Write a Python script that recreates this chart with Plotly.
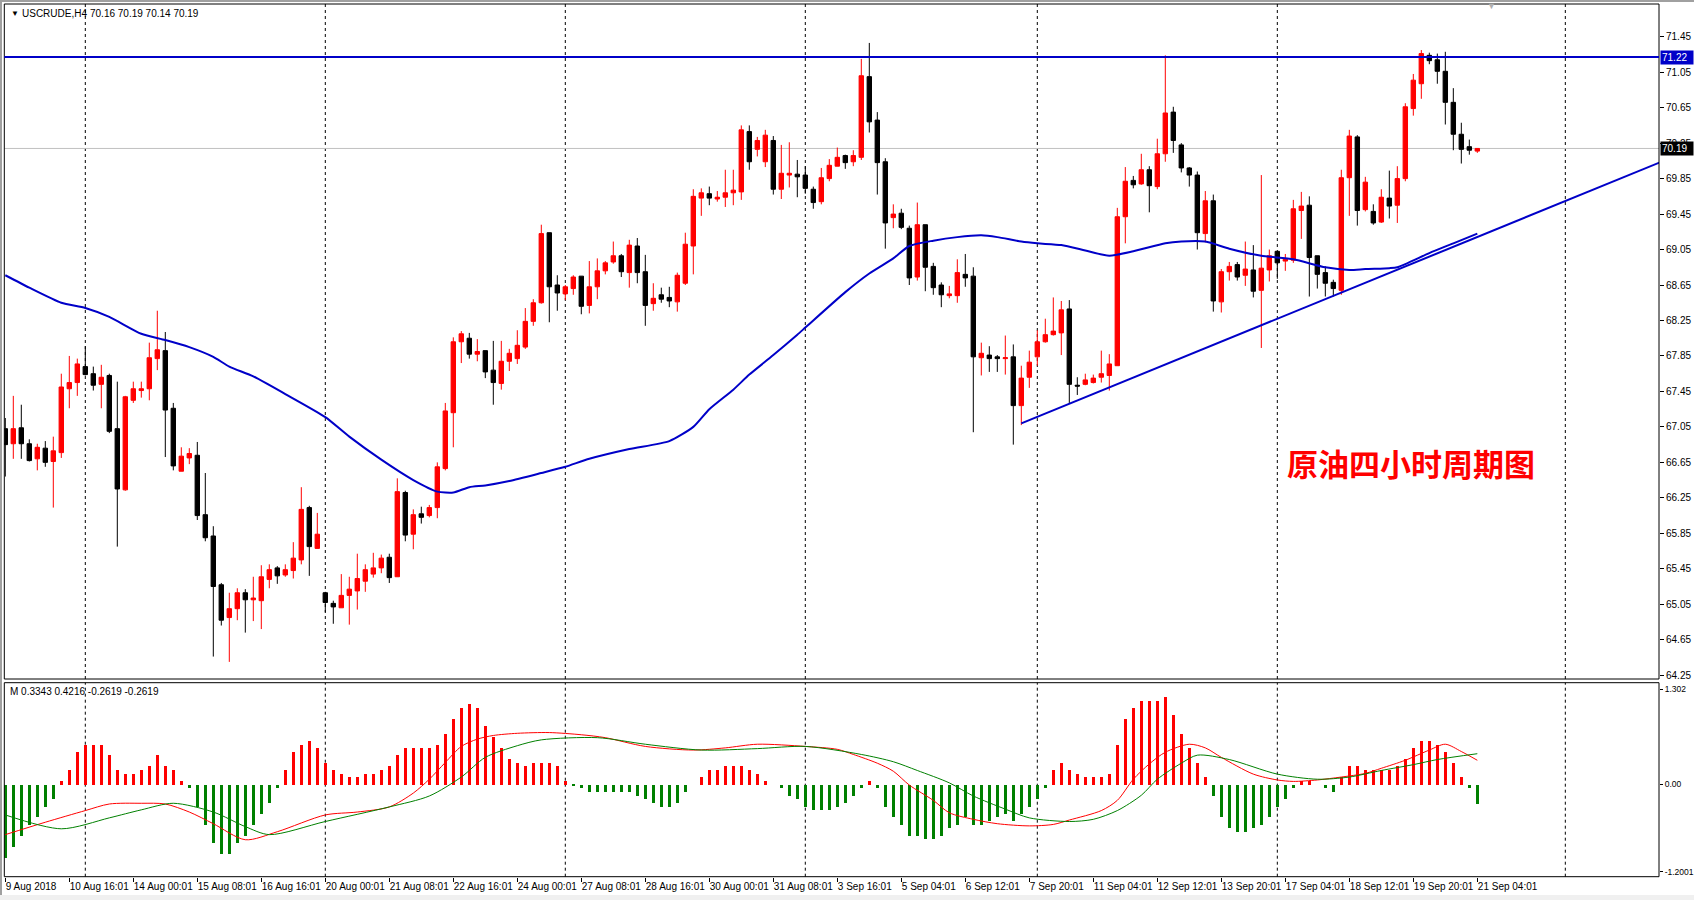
import plotly.graph_objects as go

W, H = 1694, 900

# ---------------- data ----------------
bars = list(range(185))
open_ = [67.03,66.86,67.04,66.86,66.69,66.81,66.66,66.76,67.48,67.55,67.73,67.65,67.53,67.63,67.03,66.34,67.35,67.46,67.48,67.82,
         67.91,67.26,66.55,66.70,66.73,66.06,65.82,65.27,64.90,65.00,65.18,65.10,65.09,65.33,65.46,65.38,65.43,65.55,66.14,65.68,
         65.18,65.06,65.01,65.15,65.20,65.31,65.39,65.46,65.58,65.36,66.31,65.84,66.07,66.05,66.14,66.58,67.21,68.01,68.05,67.87,
         67.91,67.69,67.54,67.79,67.82,67.95,68.24,68.45,69.24,68.65,68.55,68.61,68.75,68.42,68.63,68.81,68.91,68.98,68.79,69.09,
         68.80,68.44,68.54,68.51,68.46,68.67,69.09,69.63,69.68,69.62,69.64,69.69,69.70,70.38,70.18,70.04,70.28,69.73,69.89,69.90,
         69.89,69.73,69.59,69.85,69.99,70.11,70.04,70.09,71.00,70.51,70.04,69.41,69.46,69.29,68.74,69.33,68.86,68.65,68.53,68.53,
         68.77,68.75,67.83,67.86,67.84,67.82,67.84,67.29,67.61,67.84,68.01,68.09,68.11,68.38,67.52,67.53,67.55,67.61,67.63,67.74,
         69.42,69.83,69.79,69.95,69.76,70.13,70.60,70.23,69.97,69.89,69.23,69.60,68.46,68.80,68.88,68.76,68.82,68.59,68.82,69.03,
         68.92,68.93,69.49,69.55,68.98,68.79,68.68,68.59,69.86,70.32,69.50,69.48,69.36,69.63,69.55,69.85,70.64,70.92,71.24,71.19,
         71.06,70.71,70.35,70.21,70.16]
high = [67.15,67.40,67.30,66.91,66.86,66.89,66.94,67.65,67.85,67.82,67.96,67.73,67.75,67.65,67.56,67.40,67.56,67.56,68.00,68.36,
        68.12,67.32,66.82,66.81,66.88,66.53,65.93,65.29,65.18,65.23,65.22,65.36,65.49,65.50,65.48,65.50,65.75,66.37,66.16,66.08,
        65.19,65.09,65.39,65.36,65.62,65.50,65.63,65.61,65.62,66.47,66.33,66.12,66.15,66.17,66.65,67.32,68.06,68.13,68.11,68.04,
        67.91,68.02,68.02,67.93,68.14,68.39,68.49,69.33,69.24,68.76,68.65,68.76,68.75,68.92,68.95,68.92,69.14,69.00,69.16,69.18,
        68.99,68.67,68.62,68.63,68.79,69.24,69.73,69.74,69.76,69.71,69.95,69.95,70.45,70.45,70.32,70.40,70.33,70.23,70.26,70.06,
        69.99,69.76,69.97,70.07,70.20,70.12,70.17,71.20,71.38,70.60,70.08,69.56,69.51,69.32,69.58,69.33,68.90,68.68,68.64,68.94,
        69.00,68.85,68.00,67.96,67.86,68.08,67.98,67.74,67.91,68.14,68.27,68.51,68.47,68.48,67.61,67.65,67.64,67.91,67.87,69.52,
        69.98,69.88,70.13,69.99,70.30,71.24,70.66,70.25,69.98,69.93,69.71,69.67,68.83,68.91,68.91,69.14,69.10,69.89,69.05,69.03,
        69.00,69.61,69.70,69.65,68.98,68.86,68.71,69.95,70.40,70.34,69.87,69.56,69.73,69.94,69.99,70.70,71.03,71.30,71.27,71.26,
        71.28,70.87,70.48,70.29,70.19]
low = [66.49,66.69,66.69,66.66,66.56,66.60,66.14,66.70,67.26,67.40,67.63,67.46,67.26,66.98,65.70,66.33,67.32,67.38,67.35,67.69,
       66.71,66.56,66.55,66.63,66.00,65.76,64.46,64.81,64.40,64.87,64.73,64.86,64.77,65.23,65.28,65.36,65.34,65.50,65.37,65.68,
       64.96,64.83,65.01,64.82,64.99,65.19,65.35,65.40,65.29,65.36,65.76,65.67,65.96,66.03,66.02,66.56,66.82,67.77,67.82,67.79,
       67.60,67.30,67.47,67.68,67.76,67.93,68.19,68.44,68.23,68.36,68.48,68.54,68.32,68.33,68.49,68.77,68.89,68.74,68.62,68.67,
       68.19,68.36,68.45,68.40,68.35,68.65,68.77,69.43,69.55,69.59,69.53,69.55,69.61,69.95,70.10,69.98,69.67,69.62,69.75,69.64,
       69.68,69.51,69.56,69.82,69.99,69.96,69.99,70.06,70.37,69.67,69.06,69.29,69.28,68.65,68.70,68.58,68.54,68.40,68.50,68.45,
       68.63,66.99,67.63,67.67,67.67,67.64,66.85,67.07,67.49,67.74,68.00,68.08,67.86,67.32,67.41,67.52,67.54,67.55,67.46,67.74,
       69.12,69.74,69.78,69.47,69.73,70.04,70.14,69.92,69.76,69.05,69.13,68.35,68.34,68.70,68.70,68.64,68.51,67.94,68.69,68.72,
       68.81,68.90,69.17,68.52,68.61,68.52,68.52,68.54,69.43,69.32,69.48,69.33,69.35,69.40,69.35,69.82,70.56,70.75,71.14,70.92,
       70.46,70.17,70.02,70.12,70.14]
close = [66.85,67.03,66.86,66.67,66.82,66.65,66.78,67.50,67.55,67.76,67.64,67.52,67.61,67.00,66.35,67.39,67.48,67.48,67.83,67.92,
         67.24,66.61,66.72,66.75,66.05,65.80,65.25,64.87,65.00,65.18,65.10,65.12,65.36,65.44,65.37,65.44,65.57,66.12,65.70,65.84,
         65.07,65.02,65.15,65.22,65.34,65.44,65.46,65.57,65.35,66.32,65.83,66.06,66.03,66.14,66.60,67.23,68.01,68.10,67.87,67.90,
         67.67,67.55,67.79,67.88,67.97,68.24,68.45,69.23,68.63,68.56,68.63,68.74,68.41,68.63,68.81,68.90,68.98,68.80,69.10,68.79,
         68.42,68.50,68.49,68.47,68.76,69.11,69.65,69.69,69.63,69.64,69.69,69.72,70.40,70.04,70.28,70.34,69.73,69.91,69.91,69.87,
         69.74,69.58,69.86,70.00,70.09,70.03,70.11,71.01,70.49,70.03,69.35,69.45,69.30,68.73,69.33,68.85,68.62,68.54,68.55,68.79,
         68.73,67.84,67.88,67.82,67.82,67.83,67.29,67.60,67.78,68.01,68.09,68.13,68.37,67.53,67.51,67.58,67.60,67.65,67.76,69.42,
         69.82,69.78,69.95,69.77,70.13,70.59,70.28,69.97,69.89,69.24,69.60,68.47,68.80,68.86,68.74,68.83,68.58,68.84,68.98,68.90,
         68.94,69.51,69.54,68.96,68.77,68.67,68.61,69.86,70.33,69.49,69.81,69.35,69.64,69.54,69.85,70.66,70.96,71.26,71.18,71.06,
         70.71,70.35,70.18,70.17,70.19]

ma_bars = [0,3,7,10,13,17,20,23,26,28,31,35,40,43,47,51,54,56,58,60,63,67,70,73,78,83,86,88,91,93,96,99,100,105,108,111,113,
           116,119,122,124,127,129,132,135,138,141,145,147,150,153,157,161,165,168,170,173,174,178,181,184]
ma_vals = [68.76,68.62,68.45,68.39,68.29,68.10,68.03,67.95,67.84,67.73,67.62,67.42,67.16,66.94,66.68,66.45,66.32,66.31,66.37,
           66.39,66.44,66.53,66.60,66.69,66.80,66.89,67.05,67.25,67.47,67.64,67.86,68.09,68.17,68.57,68.78,68.95,69.09,69.15,
           69.19,69.21,69.19,69.14,69.12,69.10,69.04,68.98,69.03,69.12,69.14,69.14,69.06,68.98,68.94,68.85,68.82,68.83,68.84,
           68.85,69.01,69.12,69.23]

macd_hist = [-1.00,-0.85,-0.70,-0.55,-0.45,-0.30,-0.20,
             0.05,0.20,0.45,0.55,0.55,0.55,0.40,0.20,0.15,0.15,0.20,0.25,0.40,0.25,0.20,0.05,-0.05,
             -0.30,-0.55,-0.80,-0.95,-0.95,-0.80,-0.70,-0.55,-0.40,-0.25,-0.05,
             0.20,0.45,0.55,0.60,0.50,0.30,0.20,0.15,0.10,0.10,0.15,0.15,0.20,0.25,0.40,0.50,0.50,0.50,0.50,0.55,
             0.70,0.90,1.05,1.10,1.05,0.80,0.65,0.50,0.35,0.30,0.25,0.30,0.30,0.30,0.25,0.05,
             -0.02,-0.05,-0.10,-0.10,-0.10,-0.10,-0.10,-0.10,-0.15,-0.20,-0.25,-0.30,-0.30,-0.25,-0.10,0.00,
             0.10,0.20,0.20,0.25,0.25,0.25,0.20,0.15,0.05,0.00,-0.05,
             -0.15,-0.20,-0.30,-0.35,-0.35,-0.35,-0.30,-0.25,-0.15,-0.05,0.05,-0.05,
             -0.30,-0.45,-0.55,-0.70,-0.70,-0.75,-0.75,-0.70,-0.60,-0.55,-0.45,-0.55,-0.55,-0.50,-0.45,-0.40,-0.50,-0.40,-0.30,-0.20,-0.05,
             0.20,0.30,0.20,0.15,0.10,0.10,0.10,0.15,0.55,0.90,1.05,1.15,1.15,1.15,1.20,0.95,0.70,0.50,0.30,0.10,
             -0.15,-0.45,-0.60,-0.65,-0.65,-0.60,-0.55,-0.45,-0.30,-0.20,-0.05,
             0.05,0.05,0.00,-0.05,-0.10,
             0.10,0.25,0.25,0.20,0.20,0.20,0.20,0.25,0.35,0.50,0.60,0.60,0.55,0.45,0.30,0.10,-0.05,-0.26]

dif_bars = [0,5,10,13,17,20,23,26,30,34,40,44,48,51,53,55,57,59,61,64,68,72,75,80,86,90,94,100,104,106,109,111,113,116,118,
            121,124,128,131,133,137,139,141,143,145,148,150,152,156,159,161,164,167,170,172,175,178,180,182,184]
dif_vals = [-0.69,-0.52,-0.36,-0.27,-0.26,-0.27,-0.38,-0.54,-0.76,-0.65,-0.42,-0.38,-0.31,-0.12,0.07,0.30,0.52,0.62,0.67,0.70,
            0.71,0.68,0.64,0.52,0.47,0.50,0.55,0.52,0.48,0.41,0.29,0.18,-0.01,-0.22,-0.39,-0.48,-0.54,-0.57,-0.55,-0.49,-0.36,
            -0.22,0.07,0.28,0.44,0.55,0.50,0.37,0.14,0.06,0.04,0.06,0.10,0.15,0.22,0.33,0.47,0.55,0.45,0.33]
dea_bars = [0,7,13,17,21,26,30,33,40,48,53,57,60,64,67,74,80,87,94,100,107,111,114,118,121,125,128,133,136,139,142,144,147,
            149,153,159,164,168,172,176,179,184]
dea_vals = [-0.42,-0.61,-0.46,-0.35,-0.26,-0.38,-0.58,-0.69,-0.51,-0.31,-0.16,0.10,0.37,0.53,0.61,0.64,0.55,0.47,0.49,0.52,
            0.41,0.31,0.19,0.02,-0.16,-0.34,-0.46,-0.51,-0.48,-0.36,-0.15,0.07,0.29,0.40,0.34,0.14,0.07,0.10,0.19,0.27,0.34,0.42]

price_ticks = [64.25,64.65,65.05,65.45,65.85,66.25,66.65,67.05,67.45,67.85,68.25,68.65,69.05,69.45,69.85,70.25,70.65,71.05,71.45]
macd_ticks = [1.302, 0.0, -1.2001]
macd_tick_text = ["1.302", "0.00", "-1.2001"]
x_label_bars = list(range(0, 185, 8))
x_labels = ["9 Aug 2018","10 Aug 16:01","14 Aug 00:01","15 Aug 08:01","16 Aug 16:01","20 Aug 00:01","21 Aug 08:01",
            "22 Aug 16:01","24 Aug 00:01","27 Aug 08:01","28 Aug 16:01","30 Aug 00:01","31 Aug 08:01","3 Sep 16:01",
            "5 Sep 04:01","6 Sep 12:01","7 Sep 20:01","11 Sep 04:01","12 Sep 12:01","13 Sep 20:01","17 Sep 04:01",
            "18 Sep 12:01","19 Sep 20:01","21 Sep 04:01"]
grid_bars = [10, 40, 70, 100, 129, 159, 195]
resistance = 71.22
last_price = 70.19
trend_x = [127, 210]
trend_y = [67.09, 70.15]
header_text = "70.16 70.19 70.14 70.19"
macd_header = "M 0.3343 0.4216 -0.2619 -0.2619"
title_cn = "原油四小时周期图"

# ---------------- geometry (pixels) ----------------
plot_left, plot_right = 4.3, 1659
main_top, main_bottom = 4, 679
macd_top, macd_bottom = 682.7, 876.7
x_range = [-0.125, 206.71]
main_range = [64.207, 71.819]
macd_range = [-1.267, 1.394]

def px(x):
    return x / W

def py(y):
    return 1 - y / H

FONT = "Liberation Sans, Arial, sans-serif"
BLUE = "#0000C8"

fig = go.Figure()

fig.add_trace(go.Candlestick(
    x=bars, open=open_, high=high, low=low, close=close,
    increasing=dict(line=dict(color="#FF0000", width=1), fillcolor="#FF0000"),
    decreasing=dict(line=dict(color="#000000", width=1), fillcolor="#000000"),
    whiskerwidth=0, xaxis="x", yaxis="y", showlegend=False))

fig.add_trace(go.Scatter(x=ma_bars, y=ma_vals, mode="lines", line=dict(color=BLUE, width=2, shape="spline", smoothing=0.6),
                         xaxis="x", yaxis="y", showlegend=False, hoverinfo="skip"))

fig.add_trace(go.Scatter(x=trend_x, y=trend_y, mode="lines", line=dict(color=BLUE, width=2),
                         xaxis="x", yaxis="y", showlegend=False, hoverinfo="skip"))

n = min(len(bars), len(macd_hist))
fig.add_trace(go.Bar(x=bars[:n], y=macd_hist[:n], width=0.375,
                     marker=dict(color=["#FF0000" if v >= 0 else "#008000" for v in macd_hist[:n]], line=dict(width=0)),
                     xaxis="x", yaxis="y2", showlegend=False))
fig.add_trace(go.Scatter(x=dif_bars, y=dif_vals, mode="lines", line=dict(color="#FF0000", width=1, shape="spline", smoothing=0.8),
                         xaxis="x", yaxis="y2", showlegend=False))
fig.add_trace(go.Scatter(x=dea_bars, y=dea_vals, mode="lines", line=dict(color="#008000", width=1, shape="spline", smoothing=0.8),
                         xaxis="x", yaxis="y2", showlegend=False))

shapes = []
for top, bot in [(main_top, main_bottom), (macd_top, macd_bottom)]:
    shapes.append(dict(type="rect", xref="paper", yref="paper", x0=px(plot_left), x1=px(plot_right),
                       y0=py(bot), y1=py(top), line=dict(color="black", width=1), layer="above"))
for b in grid_bars:
    for top, bot in [(main_top, main_bottom), (macd_top, macd_bottom)]:
        shapes.append(dict(type="line", xref="x", yref="paper", x0=b, x1=b, y0=py(bot), y1=py(top),
                           line=dict(color="black", width=1, dash="3px,3px"), layer="below"))
shapes.append(dict(type="line", xref="paper", yref="y", x0=px(plot_left), x1=px(plot_right),
                   y0=last_price, y1=last_price, line=dict(color="#C0C0C0", width=1), layer="below"))
shapes.append(dict(type="line", xref="paper", yref="y", x0=px(plot_left), x1=px(plot_right),
                   y0=resistance, y1=resistance, line=dict(color=BLUE, width=2), layer="above"))
shapes.append(dict(type="line", xref="paper", yref="paper", x0=px(1), x1=px(1), y0=0, y1=1,
                   line=dict(color="#A0A0A0", width=2)))
shapes.append(dict(type="line", xref="paper", yref="paper", x0=0, x1=1, y0=py(1), y1=py(1),
                   line=dict(color="#A0A0A0", width=2)))
shapes.append(dict(type="rect", xref="paper", yref="paper", x0=0, x1=1, y0=0, y1=py(895),
                   fillcolor="#F0F0F0", line=dict(width=0)))

annotations = [
    dict(text="▼", x=px(9), y=py(13), xref="paper", yref="paper", xanchor="left", yanchor="middle",
         showarrow=False, font=dict(family=FONT, size=8, color="black")),
    dict(text="USCRUDE,H4", x=px(20), y=py(13), xref="paper", yref="paper", xanchor="left", yanchor="middle",
         showarrow=False, font=dict(family=FONT, size=10, color="black")),
    dict(text=header_text, x=px(88), y=py(13), xref="paper", yref="paper", xanchor="left", yanchor="middle",
         showarrow=False, font=dict(family=FONT, size=10, color="black")),
    dict(text=macd_header, x=px(8), y=py(691), xref="paper", yref="paper", xanchor="left", yanchor="middle",
         showarrow=False, font=dict(family=FONT, size=10, color="black")),
    dict(text="▼", x=px(1491), y=py(6), xref="paper", yref="paper", xanchor="center", yanchor="middle",
         showarrow=False, font=dict(family=FONT, size=9, color="#B0B0B0")),
    dict(text=f"{resistance:.2f}", x=px(1660), y=resistance, xref="paper", yref="y", xanchor="left",
         yanchor="middle", showarrow=False, bgcolor=BLUE, borderpad=1, width=30, align="left",
         font=dict(family=FONT, size=10, color="white")),
    dict(text=f"{last_price:.2f}", x=px(1660), y=last_price, xref="paper", yref="y", xanchor="left",
         yanchor="middle", showarrow=False, bgcolor="black", borderpad=1, width=30, align="left",
         font=dict(family=FONT, size=10, color="white")),
    dict(text=f"<b>{title_cn}</b>", x=px(1411), y=py(462), xref="paper", yref="paper", xanchor="center",
         yanchor="middle", showarrow=False,
         font=dict(family="Noto Sans CJK SC", size=31, color="#FF0000")),
]

fig.update_layout(
    width=W, height=H, margin=dict(l=0, r=0, t=0, b=0, autoexpand=False),
    paper_bgcolor="white", plot_bgcolor="white",
    showlegend=False, boxgap=0.45, boxgroupgap=0, bargap=0,
    font=dict(family=FONT, size=10, color="black"),
    shapes=shapes, annotations=annotations,
    xaxis=dict(domain=[px(plot_left), px(plot_right)], range=x_range, anchor="y2", automargin=False,
               tickvals=x_label_bars, ticktext=x_labels, ticks="outside", ticklen=4, tickcolor="black",
               tickangle=0, ticklabelposition="outside right", showgrid=False, zeroline=False, showline=False,
               rangeslider=dict(visible=False), tickfont=dict(family=FONT, size=10, color="black")),
    yaxis=dict(domain=[py(main_bottom), py(main_top)], range=main_range, side="right", anchor="x", automargin=False,
               tickvals=price_ticks, ticktext=[f"{v:.2f}" for v in price_ticks], ticks="outside",
               ticklen=4, tickcolor="black", showgrid=False, zeroline=False, showline=False,
               tickfont=dict(family=FONT, size=10, color="black")),
    yaxis2=dict(domain=[py(macd_bottom), py(macd_top)], range=macd_range, side="right", anchor="x", automargin=False,
                tickvals=macd_ticks, ticktext=macd_tick_text, ticks="outside", ticklen=3, tickcolor="black",
                showgrid=False, zeroline=False, showline=False,
                tickfont=dict(family=FONT, size=8.5, color="black")),
)

fig.write_html("out.html")
